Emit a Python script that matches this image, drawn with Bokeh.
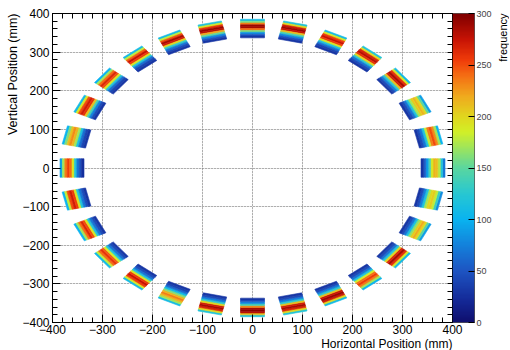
import numpy as np
from bokeh.plotting import figure
from bokeh.layouts import row
from bokeh.models import (LinearAxis, ColorBar, LinearColorMapper, FixedTicker,
                          Range1d, ColumnDataSource, Title, Grid)
from bokeh.embed import file_html
from bokeh.resources import INLINE

# ---------------- data ----------------
module_count = 28          # modules on the ring
module_radius = 361.0      # mm, ring radius of module centres
module_size = 48.0         # mm, square module side

# radial counting profiles of each module, outer edge -> inner edge
mod_00 = [70, 120, 175, 210, 215, 190, 140, 90, 55, 30]
mod_01 = [100, 170, 230, 250, 235, 180, 120, 70, 45, 30]
mod_02 = [90, 150, 200, 215, 205, 170, 120, 70, 45, 30]
mod_03 = [110, 190, 260, 285, 270, 210, 130, 75, 45, 30]
mod_04 = [120, 200, 265, 280, 260, 200, 130, 70, 45, 30]
mod_05 = [110, 190, 255, 275, 255, 190, 120, 70, 40, 30]
mod_06 = [120, 200, 270, 290, 275, 210, 140, 80, 50, 30]
mod_07 = [110, 160, 235, 290, 285, 240, 160, 85, 50, 30]
mod_08 = [120, 190, 260, 290, 280, 220, 150, 80, 50, 30]
mod_09 = [110, 180, 250, 285, 270, 200, 130, 70, 45, 30]
mod_10 = [110, 180, 245, 275, 255, 190, 120, 65, 40, 30]
mod_11 = [100, 170, 240, 265, 250, 190, 120, 65, 40, 30]
mod_12 = [110, 190, 250, 270, 260, 210, 140, 75, 45, 30]
mod_13 = [100, 160, 210, 230, 215, 170, 115, 65, 40, 30]
mod_14 = [90, 170, 235, 255, 240, 190, 120, 70, 45, 25]
mod_15 = [100, 180, 250, 270, 255, 190, 120, 70, 45, 30]
mod_16 = [100, 170, 240, 265, 250, 190, 120, 70, 45, 30]
mod_17 = [110, 180, 240, 260, 245, 185, 120, 70, 45, 30]
mod_18 = [110, 190, 255, 275, 255, 190, 120, 70, 45, 30]
mod_19 = [110, 170, 215, 235, 215, 160, 110, 65, 40, 30]
mod_20 = [120, 200, 265, 285, 270, 200, 130, 75, 45, 30]
mod_21 = [120, 210, 280, 295, 285, 230, 140, 80, 50, 30]
mod_22 = [120, 200, 265, 285, 270, 210, 130, 75, 45, 30]
mod_23 = [110, 200, 270, 290, 275, 210, 130, 75, 45, 30]
mod_24 = [100, 170, 235, 255, 240, 185, 120, 70, 45, 30]
mod_25 = [110, 190, 260, 285, 265, 200, 125, 70, 45, 30]
mod_26 = [90, 150, 200, 220, 205, 165, 115, 70, 45, 30]
mod_27 = [80, 135, 180, 205, 200, 170, 120, 75, 45, 30]
module_profiles = [mod_00, mod_01, mod_02, mod_03, mod_04, mod_05, mod_06,
                   mod_07, mod_08, mod_09, mod_10, mod_11, mod_12, mod_13,
                   mod_14, mod_15, mod_16, mod_17, mod_18, mod_19, mod_20,
                   mod_21, mod_22, mod_23, mod_24, mod_25, mod_26, mod_27]

axis_ticks = [-400, -300, -200, -100, 0, 100, 200, 300, 400]
z_ticks = [0, 50, 100, 150, 200, 250, 300]
x_title = "Horizontal Position (mm)"
y_title = "Vertical Position (mm)"
z_title = "frequency"

# ---------------- palette (rainbow like the reference) ----------------
stops = [0, 20, 50, 75, 100, 125, 150, 170, 185, 200, 220, 240, 255, 275, 300]
rgb = [(15, 15, 110), (20, 40, 150), (30, 85, 195), (20, 130, 220),
       (10, 180, 240), (40, 200, 210), (90, 215, 160), (160, 230, 90),
       (210, 240, 40), (225, 215, 30), (240, 170, 30), (245, 110, 20),
       (240, 60, 10), (200, 20, 5), (128, 0, 0)]
grid_z = np.linspace(0, 300, 256)
cols = np.array(rgb, dtype=float)
palette = []
for z in grid_z:
    r = np.interp(z, stops, cols[:, 0])
    g = np.interp(z, stops, cols[:, 1])
    b = np.interp(z, stops, cols[:, 2])
    palette.append("#%02x%02x%02x" % (int(r), int(g), int(b)))
mapper = LinearColorMapper(palette=palette, low=0, high=300)

# ---------------- geometry of cells ----------------
xs, ys, vals = [], [], []
half = module_size / 2.0
for k, prof in enumerate(module_profiles):
    th = np.deg2rad(k * 360.0 / module_count)
    c, s = np.cos(th), np.sin(th)
    dr = module_size / len(prof)
    for i, val in enumerate(prof):
        r_out = module_radius + half - i * dr
        r_in = r_out - dr
        corners = [(r_in, -half), (r_out, -half), (r_out, half), (r_in, half)]
        xs.append([a * c - b * s for a, b in corners])
        ys.append([a * s + b * c for a, b in corners])
        vals.append(val)
src = ColumnDataSource(dict(xs=xs, ys=ys, v=vals))

# ---------------- main figure ----------------
FONT = "Liberation Sans"
p = figure(frame_width=400, frame_height=309, x_range=Range1d(-400, 400),
           y_range=Range1d(-400, 400), output_backend="svg",
           toolbar_location=None, min_border_left=52, min_border_right=0,
           min_border_top=13, min_border_bottom=28, x_axis_location=None,
           y_axis_location=None)
p.outline_line_color = "black"
p.outline_line_width = 1
p.background_fill_color = "white"
p.border_fill_color = "white"

cmap = dict(field="v", transform=mapper)
p.patches("xs", "ys", source=src, fill_color=cmap, line_color=cmap,
          line_width=0.6)

minor = list(range(-400, 401, 20))
for side in ["below", "left"]:
    ax = LinearAxis(ticker=FixedTicker(ticks=axis_ticks, minor_ticks=minor))
    ax.major_tick_in = 8
    ax.major_tick_out = 0
    ax.minor_tick_in = 5
    ax.minor_tick_out = 0
    ax.axis_line_color = "black"
    ax.major_tick_line_color = "black"
    ax.minor_tick_line_color = "black"
    ax.major_label_text_font = FONT
    ax.major_label_text_color = "black"
    ax.major_label_text_font_size = "12px"
    ax.major_label_standoff = 2 if side == "below" else 3
    p.add_layout(ax, side)

# mirrored tick marks on the top and right frame edges (no labels)
for side in ["above", "right"]:
    ax = LinearAxis(ticker=FixedTicker(ticks=[], minor_ticks=minor))
    ax.minor_tick_in = 5
    ax.minor_tick_out = 0
    ax.major_tick_in = 0
    ax.major_tick_out = 5 if side == "right" else 0   # gap before colour bar
    ax.major_label_standoff = 0
    ax.axis_line_color = "black"
    ax.minor_tick_line_color = "black"
    p.add_layout(ax, side)

for dim in (0, 1):
    g = Grid(dimension=dim, ticker=FixedTicker(ticks=axis_ticks))
    g.grid_line_color = "#777777"
    g.grid_line_dash = "1 2"
    g.grid_line_width = 1
    p.add_layout(g)

cb = ColorBar(color_mapper=mapper, ticker=FixedTicker(ticks=z_ticks),
              width=22, margin=5, padding=0, label_standoff=2,
              major_tick_in=6, major_tick_out=0,
              major_tick_line_color="black", minor_tick_line_color=None,
              major_label_text_font=FONT, major_label_text_font_size="9px",
              bar_line_color="black", bar_line_width=0.5,
              border_line_color=None, background_fill_color=None)
p.add_layout(cb, "right")

p.add_layout(Title(text=x_title, align="right", text_font=FONT,
                   text_font_size="12px", text_font_style="normal",
                   text_color="black", standoff=-4, offset=0), "below")
p.add_layout(Title(text=y_title, align="right", text_font=FONT,
                   text_font_size="12.5px", text_font_style="normal",
                   text_color="black", standoff=0, offset=0), "left")

# ---------------- narrow strip carrying the colour-axis title ----------------
q = figure(frame_width=1, frame_height=311, output_backend="svg",
           toolbar_location=None, min_border_left=0, min_border_right=0,
           min_border_top=10, min_border_bottom=29, x_axis_location=None,
           y_axis_location=None)
q.outline_line_color = None
q.background_fill_color = "white"
q.border_fill_color = "white"
q.xgrid.visible = False
q.ygrid.visible = False
q.add_layout(Title(text=z_title, align="right", text_font=FONT,
                   text_font_size="11px", text_font_style="normal",
                   text_color="black", standoff=0, offset=0), "left")

layout = row(p, q, spacing=0)
open("out.html", "w").write(file_html(layout, INLINE))
